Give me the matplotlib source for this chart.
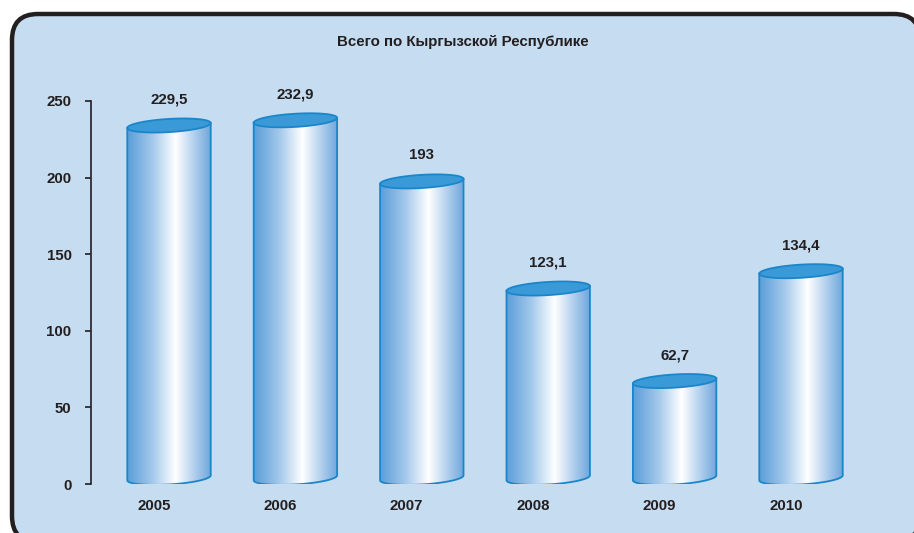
import numpy as np
import matplotlib
matplotlib.use("Agg")
import matplotlib.pyplot as plt
from matplotlib.colors import LinearSegmentedColormap
from matplotlib.patches import FancyBboxPatch, Polygon

years = ["2005", "2006", "2007", "2008", "2009", "2010"]
values = [229.5, 232.9, 193, 123.1, 62.7, 134.4]
value_labels = ["229,5", "232,9", "193", "123,1", "62,7", "134,4"]
yticks = [0, 50, 100, 150, 200, 250]
title = "Всего по Кыргызской Республике"

TEXT = "#231f20"
BG = "#c6dcf0"
EDGE = "#1a86c9"
TOP = "#3a9ad7"
FS = 10.8

plt.rcParams["font.family"] = ["Liberation Sans", "DejaVu Sans"]
plt.rcParams["font.weight"] = "bold"

W, H = 914, 533
fig = plt.figure(figsize=(W / 100, H / 100), dpi=100)

# background panel with rounded border
bg = fig.add_axes([0, 0, 1, 1])
bg.set_xlim(0, W)
bg.set_ylim(H, 0)
bg.axis("off")
bg.add_patch(FancyBboxPatch((12, 14), 920 - 12, 542 - 14,
                            boxstyle="round,pad=0,rounding_size=26",
                            fc=BG, ec=TEXT, lw=3.2))
bg.text(463, 42, title, ha="center", va="center", fontsize=FS,
        color=TEXT, fontweight="bold")

# main axes in pixel layout: y=0 at 484 px, 1.532 px per unit
ppu = 1.532
ymax = 280
ax_bottom = H - 484
ax_h = ymax * ppu
xpx = 126.4
x_left = -(169 - 91) / xpx
x_right = (W - 169) / xpx
ax = fig.add_axes([91 / W, ax_bottom / H, (W - 91) / W, ax_h / H])
ax.patch.set_alpha(0)
ax.set_xlim(x_left, x_right)
ax.set_ylim(0, ymax)

cmap = LinearSegmentedColormap.from_list(
    "cyl", [(0, "#5a9dd8"), (0.3, "#a3c8eb"), (0.58, "#ffffff"),
            (0.8, "#b3d0ed"), (1, "#6ea6dc")])
grad = np.linspace(0, 1, 256).reshape(1, -1)

a = 0.33          # half width in x units
b = 4.3           # ellipse half height in y units
s = 1.6           # tilt of ellipse
base = 4.0        # 3d offset of cylinder base
t_bot = np.linspace(np.pi, 2 * np.pi, 60)
t_all = np.linspace(0, 2 * np.pi, 120)

for i, (v, lab) in enumerate(zip(values, value_labels)):
    top = v + 4.5
    x0, x1 = i - a, i + a
    body = [(x0, top - s), (x0, base - s)]
    body += list(zip(i + a * np.cos(t_bot), base + b * np.sin(t_bot) + s * np.cos(t_bot)))
    body += [(x1, top + s)]
    poly = Polygon(body, closed=True, fc="none", ec=EDGE, lw=1.3, zorder=3)
    ax.add_patch(poly)
    im = ax.imshow(grad, cmap=cmap, aspect="auto", zorder=2,
                   extent=(x0, x1, base - b - s, top + s), interpolation="bicubic")
    im.set_clip_path(poly)
    cap = Polygon(list(zip(i + a * np.cos(t_all), top + b * np.sin(t_all) + s * np.cos(t_all))),
                  closed=True, fc=TOP, ec=EDGE, lw=1.3, zorder=4)
    ax.add_patch(cap)
    ax.text(i, top + 17, lab, ha="center", va="center", fontsize=FS,
            color=TEXT, fontweight="bold", zorder=5)
    ax.text(i - 0.12, -14.5, years[i], ha="center", va="center", fontsize=FS,
            color=TEXT, fontweight="bold", clip_on=False)

ax.set_xlim(x_left, x_right)
ax.set_ylim(0, ymax)
ax.set_xticks([])
ax.set_yticks(yticks)
ax.set_yticklabels([str(t) for t in yticks], fontsize=FS, color=TEXT, fontweight="bold")
ax.tick_params(axis="y", direction="out", length=4, width=1.2, color=TEXT, pad=10)
for side in ["top", "right", "bottom"]:
    ax.spines[side].set_visible(False)
ax.spines["left"].set_bounds(0, 250)
ax.spines["left"].set_color(TEXT)
ax.spines["left"].set_linewidth(1.2)

fig.savefig("out.png", dpi=100)
